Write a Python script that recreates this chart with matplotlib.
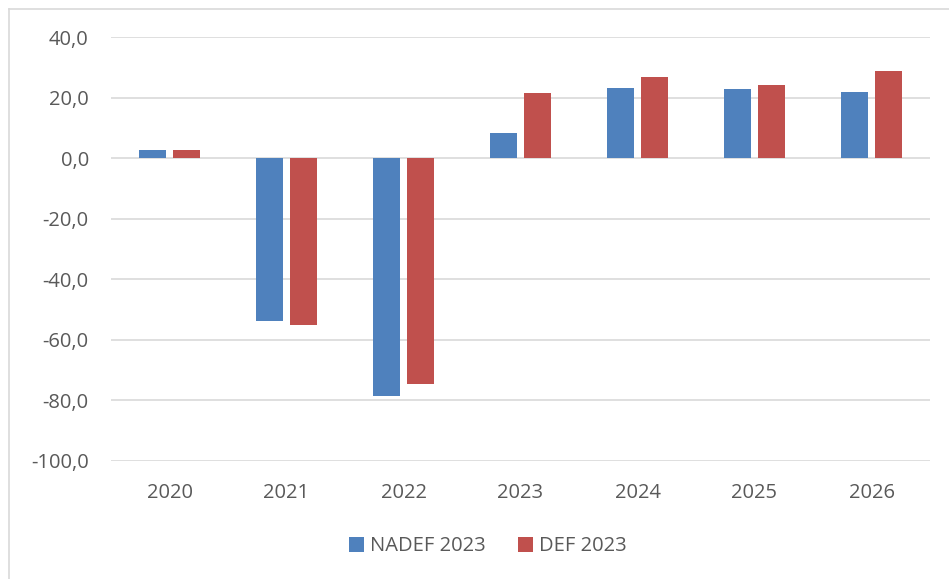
import matplotlib.pyplot as plt
from matplotlib.lines import Line2D
import numpy as np

years = ["2020", "2021", "2022", "2023", "2024", "2025", "2026"]
nadef_2023 = [2.6, -53.7, -78.4, 8.2, 23.3, 22.8, 21.9]
def_2023 = [2.7, -55.0, -74.6, 21.5, 26.9, 24.1, 28.9]
y_ticks = [-100, -80, -60, -40, -20, 0, 20, 40]

plt.rcParams['font.family'] = ['Open Sans', 'DejaVu Sans']
text_color = '#595959'

fig = plt.figure(figsize=(9.49, 5.79), dpi=100)
ax = fig.add_axes([111 / 949, 1 - 461 / 579, (930 - 111) / 949, (461 - 37) / 579])

x = np.arange(len(years))
w = 0.228
off = 0.1425
ax.bar(x - off, nadef_2023, width=w, color='#4F81BD', label='NADEF 2023', zorder=3)
ax.bar(x + off, def_2023, width=w, color='#C0504D', label='DEF 2023', zorder=3)

ax.set_xlim(-0.5, len(years) - 0.5)
ax.set_ylim(-100, 40)
ax.set_yticks(y_ticks)
ax.set_yticklabels([f"{v:.1f}".replace('.', ',') for v in y_ticks])
ax.set_xticks(x)
ax.set_xticklabels(years)
ax.yaxis.grid(True, color='#D9D9D9', linewidth=1.2, zorder=0)
for s in ax.spines.values():
    s.set_visible(False)
ax.tick_params(axis='both', length=0, labelsize=14.5, colors=text_color)
ax.tick_params(axis='y', pad=16)
ax.tick_params(axis='x', pad=16)

ax.legend(loc='upper center', bbox_to_anchor=(0.46, -0.135), ncol=2, frameon=False,
          fontsize=14.5, labelcolor=text_color, handlelength=0.75, handleheight=0.75,
          handletextpad=0.3, columnspacing=1.6)

# outer chart border (left and top only visible)
fig.add_artist(Line2D([9 / 949, 9 / 949], [0, 1 - 9 / 579], color='#D9D9D9', linewidth=1.2))
fig.add_artist(Line2D([9 / 949, 1], [1 - 9 / 579, 1 - 9 / 579], color='#D9D9D9', linewidth=1.2))

fig.savefig('out.png', dpi=100)
